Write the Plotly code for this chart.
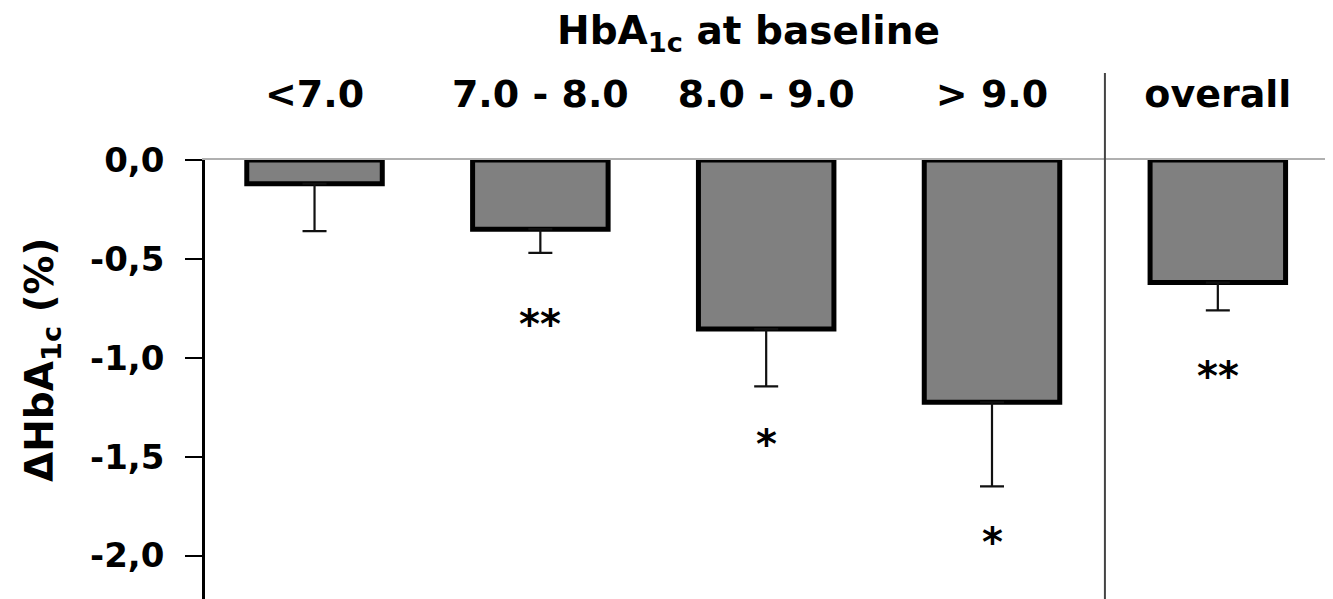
import plotly.graph_objects as go

# ---- data ----
categories = ["<7.0", "7.0 - 8.0", "8.0 - 9.0", "> 9.0", "overall"]
delta_hba1c = [-0.12, -0.35, -0.855, -1.225, -0.62]
sem = [0.24, 0.12, 0.29, 0.425, 0.14]
significance = ["", "**", "*", "*", "**"]
y_tick_vals = [0.0, -0.5, -1.0, -1.5, -2.0]
y_tick_text = ["0,0", "-0,5", "-1,0", "-1,5", "-2,0"]

# ---- layout helpers ----
star_gap = [0.0, 0.36, 0.29, 0.28, 0.33]
FONT = "DejaVu Sans"
OFF = 8  # page body margin
W, H = 1333 - OFF, 599 - OFF
ML, MR, MT, MB = 205 - OFF, 0, 160 - OFF, 0
PW, PH = W - ML - MR, H - MT - MB

xs = list(range(len(categories)))

fig = go.Figure()
fig.add_trace(go.Bar(
    x=xs, y=delta_hba1c, width=0.6,
    marker=dict(color="#808080", line=dict(color="black", width=5)),
    error_y=dict(type="data", symmetric=False, array=[0] * len(sem),
                 arrayminus=sem, color="#111111", thickness=2.2, width=12),
    cliponaxis=False, showlegend=False,
))

annotations = []
for i, s in enumerate(significance):
    if s:
        annotations.append(dict(
            x=xs[i], y=delta_hba1c[i] - sem[i] - star_gap[i], xref="x", yref="y",
            text=s, showarrow=False, xanchor="center", yanchor="middle",
            font=dict(family=FONT, size=40, color="black", weight="bold")))

# chart title
annotations.append(dict(
    x=(748 - OFF - ML) / PW, y=1 + (MT - (33 - OFF)) / PH, xref="paper", yref="paper",
    text="HbA<sub>1c</sub> at baseline", showarrow=False,
    xanchor="center", yanchor="middle",
    font=dict(family=FONT, size=39, color="black", weight="bold")))
# y-axis title
annotations.append(dict(
    x=(42 - OFF - ML) / PW, y=(599 - 360) / PH, xref="paper", yref="paper",
    text="ΔHbA<sub>1c</sub> (%)", showarrow=False, textangle=-90,
    xanchor="center", yanchor="middle",
    font=dict(family=FONT, size=39, color="black", weight="bold")))

fig.update_layout(
    width=W, height=H, autosize=False,
    margin=dict(l=ML, r=MR, t=MT, b=MB, pad=0),
    paper_bgcolor="white", plot_bgcolor="white",
    annotations=annotations,
    shapes=[dict(type="line", xref="x", yref="paper", x0=3.5, x1=3.5,
                 y0=0, y1=1 + (160 - 73) / PH,
                 line=dict(color="#444444", width=2))],
    xaxis=dict(
        side="top", range=[-0.485, 4.51], tickvals=xs, ticktext=categories,
        showline=True, linecolor="#b0b0b0", linewidth=2, ticks="",
        showgrid=False, zeroline=False, ticklabelstandoff=36,
        tickfont=dict(family=FONT, size=38, color="black", weight="bold"),
    ),
    yaxis=dict(
        range=[-2.22, 0], tickvals=y_tick_vals, ticktext=y_tick_text,
        showline=True, linecolor="black", linewidth=2.5,
        ticks="outside", ticklen=17, tickwidth=2, tickcolor="black",
        showgrid=False, zeroline=False, ticklabelstandoff=14,
        tickfont=dict(family=FONT, size=34, color="black", weight="bold"),
    ),
)

fig.write_html("out.html")
